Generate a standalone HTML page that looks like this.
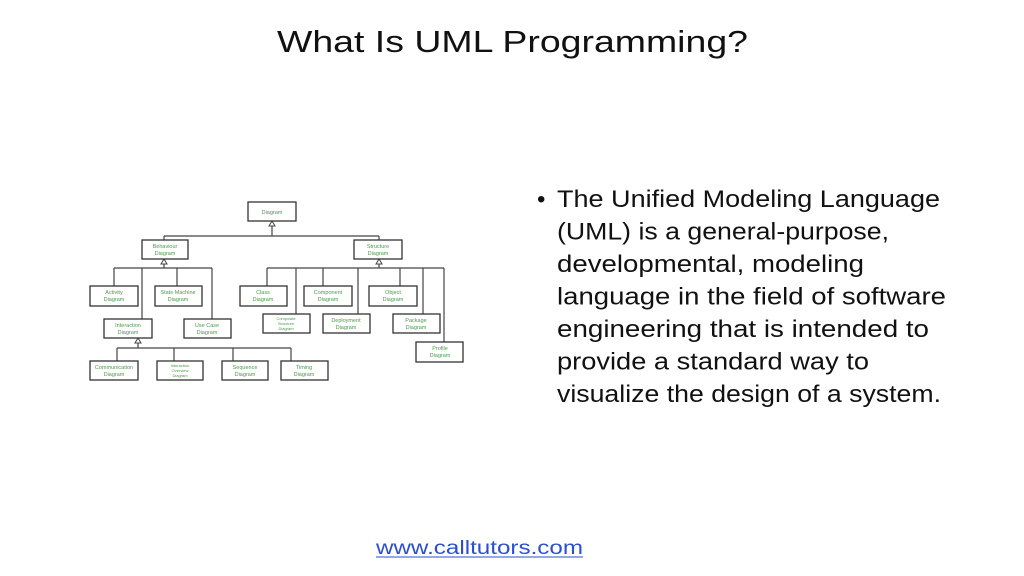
<!DOCTYPE html>
<html><head><meta charset="utf-8"><style>
html,body{margin:0;padding:0;background:#fff;width:1024px;height:576px;overflow:hidden}
svg{display:block}
.t{font-family:"Liberation Sans",sans-serif;fill:#111}
.b rect{fill:#fff;stroke:#333;stroke-width:1.3}
.g{font-family:"Liberation Sans",sans-serif;font-size:5.5px;fill:#4c9a4c;text-anchor:middle}
.l{stroke:#444;stroke-width:1.2;fill:none}
</style></head><body>
<svg width="1024" height="576" viewBox="0 0 1024 576">
<text class="t" x="277" y="52" font-size="31" textLength="471" lengthAdjust="spacingAndGlyphs">What Is UML Programming?</text>

<g class="l">
<path d="M272 221V236M164 236H379M164 236V240M379 236V240"/>
<path d="M164 259V268M114 268H212M114 268V286M142 268V319M177 268V286M212 268V319"/>
<path d="M379 259V268M267 268H444M267 268V286M296 268V314M323 268V286M358 268V314M400 268V286M423 268V314M444 268V342"/>
<path d="M138 338V348M117 348H291M117 348V361M174 348V361M233 348V361M291 348V361"/>
</g>
<g fill="#fff" stroke="#444" stroke-width="1">
<path d="M272 221l-3 5h6z"/><path d="M164 259l-3 5h6z"/><path d="M379 259l-3 5h6z"/><path d="M138 338l-3 5h6z"/>
</g>
<g class="b">
<rect x="248" y="202" width="48" height="19"/>
<rect x="142" y="240" width="46" height="19"/>
<rect x="354" y="240" width="48" height="19"/>
<rect x="90" y="286" width="48" height="20"/>
<rect x="155" y="286" width="47" height="20"/>
<rect x="104" y="319" width="48" height="19"/>
<rect x="184" y="319" width="47" height="19"/>
<rect x="90" y="361" width="48" height="19"/>
<rect x="157" y="361" width="46" height="19"/>
<rect x="222" y="361" width="46" height="19"/>
<rect x="281" y="361" width="47" height="19"/>
<rect x="240" y="286" width="47" height="20"/>
<rect x="304" y="286" width="48" height="20"/>
<rect x="369" y="286" width="48" height="20"/>
<rect x="263" y="314" width="47" height="19"/>
<rect x="323" y="314" width="47" height="19"/>
<rect x="393" y="314" width="47" height="19"/>
<rect x="416" y="342" width="47" height="20"/>
</g>
<g class="g">
<text x="272" y="214">Diagram</text>
<text x="165" y="248">Behaviour</text><text x="165" y="255">Diagram</text>
<text x="378" y="248">Structure</text><text x="378" y="255">Diagram</text>
<text x="114" y="294">Activity</text><text x="114" y="301">Diagram</text>
<text x="178" y="294">State Machine</text><text x="178" y="301">Diagram</text>
<text x="128" y="327">Interaction</text><text x="128" y="334">Diagram</text>
<text x="207" y="327">Use Case</text><text x="207" y="334">Diagram</text>
<text x="114" y="369">Communication</text><text x="114" y="376">Diagram</text>
<text x="180" y="367" font-size="4">Interaction</text><text x="180" y="372" font-size="4">Overview</text><text x="180" y="377" font-size="4">Diagram</text>
<text x="245" y="369">Sequence</text><text x="245" y="376">Diagram</text>
<text x="304" y="369">Timing</text><text x="304" y="376">Diagram</text>
<text x="263" y="294">Class</text><text x="263" y="301">Diagram</text>
<text x="328" y="294">Component</text><text x="328" y="301">Diagram</text>
<text x="393" y="294">Object</text><text x="393" y="301">Diagram</text>
<text x="286" y="320" font-size="4">Composite</text><text x="286" y="325" font-size="4">Structure</text><text x="286" y="330" font-size="4">Diagram</text>
<text x="346" y="322">Deployment</text><text x="346" y="329">Diagram</text>
<text x="416" y="322">Package</text><text x="416" y="329">Diagram</text>
<text x="440" y="350">Profile</text><text x="440" y="357">Diagram</text>
</g>

<g class="t" font-size="24">
<text x="537" y="207">•</text>
<text x="557" y="207" textLength="383" lengthAdjust="spacingAndGlyphs">The Unified Modeling Language</text>
<text x="557" y="239.5" textLength="332" lengthAdjust="spacingAndGlyphs">(UML) is a general-purpose,</text>
<text x="557" y="272" textLength="307" lengthAdjust="spacingAndGlyphs">developmental, modeling</text>
<text x="557" y="304.5" textLength="389" lengthAdjust="spacingAndGlyphs">language in the field of software</text>
<text x="557" y="337" textLength="372" lengthAdjust="spacingAndGlyphs">engineering that is intended to</text>
<text x="557" y="369.5" textLength="312" lengthAdjust="spacingAndGlyphs">provide a standard way to</text>
<text x="557" y="402" textLength="384" lengthAdjust="spacingAndGlyphs">visualize the design of a system.</text>
</g>

<text x="376" y="554" font-family="Liberation Sans,sans-serif" font-size="19" fill="#2a4fd0" textLength="207" lengthAdjust="spacingAndGlyphs">www.calltutors.com</text>
<line x1="376" y1="557" x2="583" y2="557" stroke="#2a4fd0" stroke-width="1"/>
</svg>
</body></html>
